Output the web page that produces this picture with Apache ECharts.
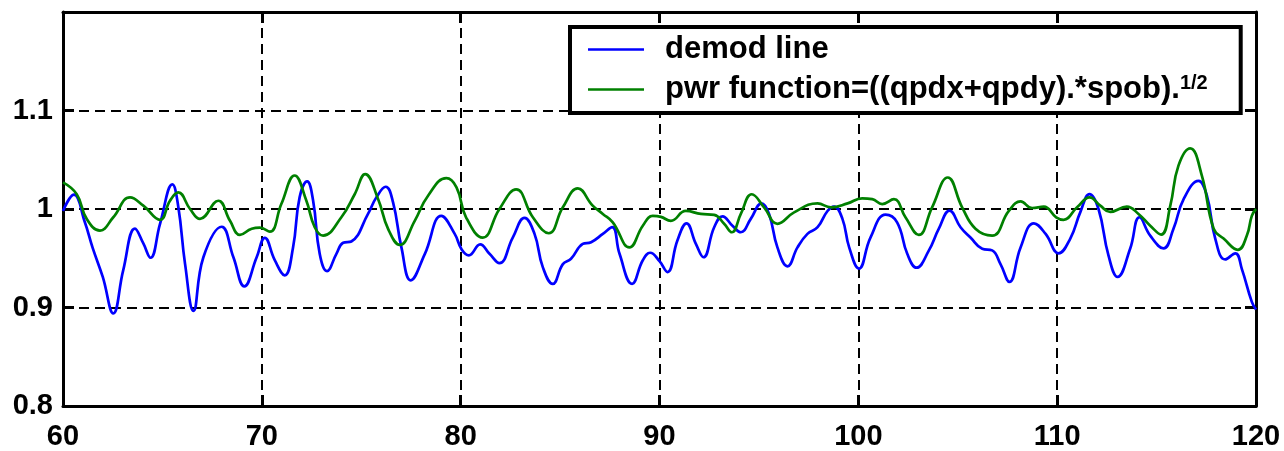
<!DOCTYPE html>
<html>
<head>
<meta charset="utf-8">
<script src="https://cdn.jsdelivr.net/npm/echarts@6/dist/echarts.min.js"></script>
<style>
  html, body { margin: 0; padding: 0; background: #fff; }
  #chart { width: 1284px; height: 451px; }
</style>
</head>
<body>
<div id="chart"></div>
<script>
// Demodulated signal samples (x position, amplitude)
const demodX = [60, 60.55, 61.1, 61.5, 62.0, 62.53, 63.03, 63.62, 64.04, 64.4, 64.88, 65.5, 65.8, 66.14, 66.56,
  67.06, 67.98, 68.57, 69.12, 69.74, 70.15, 70.65, 71.15, 71.57, 71.9, 72.28, 72.58, 72.91, 73.28, 73.75,
  74.09, 74.5, 75.34, 75.76, 76.23, 76.6, 77.02, 77.49, 78.2, 79.03, 79.7, 80.05, 80.41, 80.98, 81.45,
  81.95, 82.62, 83.21, 83.71, 84.13, 84.63, 85.14, 85.55, 86.14, 86.56, 87.15, 87.62, 87.99, 88.62, 89.16,
  89.53, 90.0, 90.4, 90.9, 91.36, 91.83, 92.21, 92.75, 93.17, 93.67, 94.09, 94.59, 95.13, 95.51, 95.93,
  96.44, 96.94, 97.44, 97.95, 98.45, 98.78, 99.2, 99.54, 100.03, 100.61, 101.37, 101.95, 102.46, 102.93,
  103.55, 104.05, 104.59, 105.14, 105.64, 106.23, 106.73, 107.15, 107.6, 108.16, 108.83, 109.42, 110.07,
  110.66, 111.16, 111.63, 112.08, 112.58, 113.04, 113.67, 114.14, 114.68, 115.35, 115.85, 116.36, 117.11,
  117.53, 117.95, 118.45, 118.96, 119.29, 119.79, 120];
const demodY = [0.998, 1.0145, 0.9865, 0.96, 0.931, 0.894, 0.938, 0.980, 0.965, 0.9505, 0.985, 1.025, 1.002, 0.944, 0.8966,
  0.951, 0.982, 0.951, 0.9215, 0.951, 0.9707, 0.948, 0.9327, 0.961, 1.0118, 1.028, 1.0084, 0.9545, 0.937, 0.9545,
  0.9657, 0.967, 0.995, 1.0118, 1.0226, 1.0067, 0.961, 0.9276, 0.9545, 0.993, 0.9747, 0.959, 0.953, 0.964, 0.9545,
  0.945, 0.971, 0.991, 0.975, 0.941, 0.924, 0.944, 0.9495, 0.9646, 0.9663, 0.9747, 0.9815, 0.9545, 0.924, 0.948,
  0.9556, 0.947, 0.936, 0.968, 0.9855, 0.9646, 0.951, 0.9815, 0.9926, 0.983, 0.9764, 0.99, 1.0057, 0.995, 0.961,
  0.9418, 0.961, 0.9747, 0.9815, 0.998, 1.0024, 0.99, 0.961, 0.9394, 0.971, 0.9943, 0.9865, 0.9545, 0.9404,
  0.958, 0.98, 0.9983, 0.9815, 0.971, 0.9596, 0.958, 0.944, 0.926, 0.961, 0.9855, 0.9747, 0.955,
  0.97, 0.9966, 1.0152, 1.0, 0.9529, 0.931, 0.9596, 0.9916, 0.973, 0.96, 0.98, 1.01, 1.0286,
  1.0135, 0.97, 0.9488, 0.955, 0.939, 0.9057, 0.898];

// Power function samples
const pwrX = [60, 60.69, 61.19, 61.86, 62.53, 63.37, 64.04, 64.88, 65.38, 65.8, 66.39, 66.89, 67.81, 68.4, 68.9,
  69.49, 69.9, 70.4, 70.98, 71.65, 72.24, 72.66, 73.08, 74.0, 74.67, 75.2, 75.85, 76.35, 76.94, 77.69,
  78.36, 79.28, 79.79, 80.27, 81.11, 81.95, 82.79, 83.63, 84.43, 85.14, 85.89, 86.64, 87.15, 87.65, 88.49,
  89.16, 89.66, 90.07, 90.57, 91.32, 92.08, 92.75, 93.25, 93.64, 94.09, 94.64, 95.26, 95.93, 96.77, 97.95,
  98.62, 99.46, 100.19, 100.7, 101.2, 101.79, 102.37, 103.04, 103.71, 104.5, 105.22, 105.89, 106.73, 107.57,
  108.16, 108.74, 109.33, 109.95, 110.32, 111.0, 111.63, 112.17, 112.67, 113.5, 114.09, 114.68, 115.23,
  115.69, 116.1, 116.69, 117.28, 117.87, 118.37, 119.09, 119.54, 119.79, 120];
const pwrY = [1.027, 1.015, 0.99, 0.978, 0.9916, 1.0118, 1.0034, 0.989, 1.0084, 1.0168, 1.0, 0.99, 1.0084, 0.988, 0.9737,
  0.98, 0.981, 0.977, 1.005, 1.034, 1.0084, 0.9815, 0.973, 0.9916, 1.015, 1.0354, 1.01, 0.9798, 0.9636, 0.988,
  1.0135, 1.0313, 1.022, 0.9916, 0.971, 1.0, 1.02, 0.9916, 0.9754, 1.0017, 1.0209, 1.0034, 0.995, 0.9865, 0.961,
  0.983, 0.993, 0.992, 0.988, 0.998, 0.995, 0.994, 0.985, 0.9764, 0.995, 1.015, 1.0017, 0.985, 0.9966, 1.0057,
  1.0017, 1.0057, 1.0108, 1.01, 1.005, 1.01, 0.9916, 0.9737, 1.0017, 1.032, 1.0017, 0.98, 0.973, 0.998,
  1.0077, 1.001, 1.0024, 0.9916, 0.989, 1.0017, 1.0118, 1.0034, 0.997, 1.0024, 0.995, 0.983, 0.974,
  1.0034, 1.044, 1.0616, 1.0337, 0.98, 0.97, 0.9586, 0.973, 0.993, 1.0];

const xTickLabels = ['60', '70', '80', '90', '100', '110', '120'];
const yTickLabels = ['0.8', '0.9', '1', '1.1', ''];
const seriesNames = ['demod line', 'pwr function'];

const FONT = '"Liberation Sans", Arial, Helvetica, sans-serif';

function pairs(xs, ys) {
  return xs.map((x, i) => [x, ys[i]]);
}

const frameLine = { show: true, onZero: false, lineStyle: { color: '#000', width: 3 } };
const inTick = { show: true, inside: true, length: 11, lineStyle: { color: '#000', width: 3 } };
const gridDash = { show: true, lineStyle: { color: '#000', width: 2, type: [10, 6] } };

const chart = echarts.init(document.getElementById('chart'), null, { renderer: 'canvas' });

chart.setOption({
  animation: false,
  backgroundColor: '#fff',
  grid: { left: 63, right: 28, top: 12, bottom: 43 },
  xAxis: [
    {
      type: 'value', position: 'bottom', min: 60, max: 120, interval: 10,
      axisLine: frameLine, axisTick: inTick, splitLine: gridDash,
      axisLabel: {
        color: '#000', fontFamily: FONT, fontWeight: 'bold', fontSize: 29, margin: 16,
        formatter: v => xTickLabels[Math.round((v - 60) / 10)]
      }
    },
    {
      type: 'value', position: 'top', min: 60, max: 120, interval: 10,
      axisLine: frameLine, axisTick: inTick, splitLine: { show: false }, axisLabel: { show: false }
    }
  ],
  yAxis: [
    {
      type: 'value', position: 'left', min: 0.8, max: 1.2, interval: 0.1,
      axisLine: frameLine, axisTick: inTick, splitLine: gridDash,
      axisLabel: {
        color: '#000', fontFamily: FONT, fontWeight: 'bold', fontSize: 29, margin: 10,
        padding: [6, 0, 0, 0],
        formatter: v => yTickLabels[Math.round((v - 0.8) / 0.1)]
      }
    },
    {
      type: 'value', position: 'right', min: 0.8, max: 1.2, interval: 0.1,
      axisLine: frameLine, axisTick: inTick, splitLine: { show: false }, axisLabel: { show: false }
    }
  ],
  legend: {
    orient: 'vertical',
    left: 570, top: 27,
    padding: [7, 33, 8, 18],
    icon: 'rect',
    itemWidth: 56, itemHeight: 2.5, itemGap: 8,
    backgroundColor: '#fff',
    borderColor: '#000', borderWidth: 4, borderRadius: 0,
    selectedMode: false,
    data: seriesNames,
    formatter: name => name === seriesNames[0]
      ? '{a|' + name + '}'
      : '{a|pwr function=((qpdx+qpdy).*spob).}{s|1/2}',
    textStyle: {
      color: '#000',
      rich: {
        a: { fontFamily: FONT, fontWeight: 'bold', fontSize: 31, lineHeight: 33, color: '#000', padding: [0, 0, 0, 16] },
        s: { fontFamily: FONT, fontWeight: 'bold', fontSize: 20, lineHeight: 33, color: '#000', verticalAlign: 'top' }
      }
    }
  },
  series: [
    {
      name: seriesNames[0], type: 'line', xAxisIndex: 0, yAxisIndex: 0,
      data: pairs(demodX, demodY),
      smooth: 0.45, symbol: 'none',
      lineStyle: { color: '#0000ff', width: 2.7 },
      itemStyle: { color: '#0000ff' }, z: 3
    },
    {
      name: seriesNames[1], type: 'line', xAxisIndex: 0, yAxisIndex: 0,
      data: pairs(pwrX, pwrY),
      smooth: 0.45, symbol: 'none',
      lineStyle: { color: '#008000', width: 2.7 },
      itemStyle: { color: '#008000' }, z: 3
    }
  ]
});
</script>
</body>
</html>
